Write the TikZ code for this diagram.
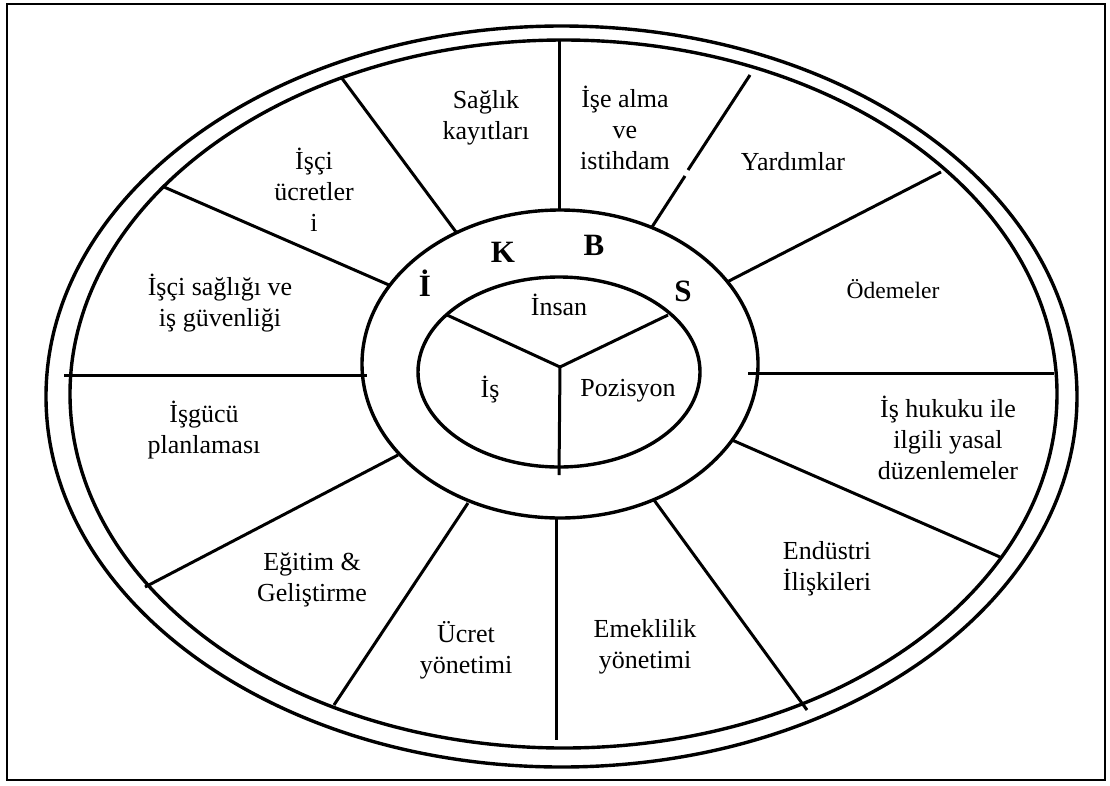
\documentclass[tikz,border=0pt]{standalone}
\usepackage{fontspec}
\setmainfont{Liberation Serif}
\begin{document}
\begin{tikzpicture}[x=1pt,y=-1pt,
  rim/.style={line width=3.4pt},
  spoke/.style={line width=3pt},
  lbl/.style={align=center,font=\fontsize{26}{31}\selectfont,inner sep=0pt},
  letter/.style={font=\fontsize{31}{31}\selectfont\bfseries,inner sep=0pt}]
\useasboundingbox (0,0) rectangle (1110,785);
% frame
\draw[line width=1.8pt] (7,4) rectangle (1105,780);
% outer double rim
\draw[rim] (561.5,396.5) ellipse [x radius=515.5pt, y radius=370.5pt];
\draw[rim] (563.5,394) ellipse [x radius=493.5pt, y radius=354pt];
% middle ring and hub
\draw[rim] (560,364) ellipse [x radius=198pt, y radius=154pt];
\draw[rim] (559,372) ellipse [x radius=141pt, y radius=95pt];
% spokes of the outer ring
\draw[spoke] (559,40) -- (559,211);
\draw[spoke] (341,77) -- (456,232);
\draw[spoke] (164,187) -- (389,285);
\draw[spoke] (64,375) -- (367,375);
\draw[spoke] (145,587) -- (398,455);
\draw[spoke] (334,705) -- (468,503);
\draw[spoke] (556,518) -- (556,740);
\draw[spoke] (654,500) -- (807,710);
\draw[spoke] (732,440) -- (1000,557);
\draw[spoke] (748,373) -- (1054,373);
\draw[spoke] (727,282) -- (941,172);
\draw[spoke] (750,75) -- (688,170);
\draw[spoke] (685,176) -- (652,227);
% hub spokes
\coordinate (hub) at (560,367);
\draw[spoke] (447,315) -- (hub) -- (668,315);
\draw[spoke] (hub) -- (559,475);
% sector labels
\node[lbl] (saglik) at (486,118) {Sağlık\\kayıtları};
\node[lbl] (isealma) at (625,128) {İşe alma\\ve\\istihdam};
\node[lbl] (yardim) at (793,162) {Yardımlar};
\node[lbl,font=\fontsize{23.5}{28}\selectfont] (odeme) at (893,289) {Ödemeler};
\node[lbl] (hukuk) at (948,438) {İş hukuku ile\\ilgili yasal\\düzenlemeler};
\node[lbl] (endustri) at (827,569) {Endüstri\\İlişkileri};
\node[lbl] (emekli) at (645,647) {Emeklilik\\yönetimi};
\node[lbl] (ucret) at (466,650) {Ücret\\yönetimi};
\node[lbl] (egitim) at (312,580) {Eğitim \&\\Geliştirme};
\node[lbl] (isgucu) at (204,430) {İşgücü\\planlaması};
\node[lbl] (saglikgv) at (220,303) {İşçi sağlığı ve\\iş güvenliği};
\node[lbl] (iscucret) at (314,190) {İşçi\\ücretler\\i};
% hub labels
\node[lbl] (insan) at (559,305) {İnsan};
\node[lbl] (is) at (490,390) {İş};
\node[lbl] (pozisyon) at (628,391) {Pozisyon};
% ring letters
\node[letter] (li) at (425,283) {İ};
\node[letter] (lk) at (503,252) {K};
\node[letter] (lb) at (594,245) {B};
\node[letter] (ls) at (683,291) {S};
\end{tikzpicture}
\end{document}
